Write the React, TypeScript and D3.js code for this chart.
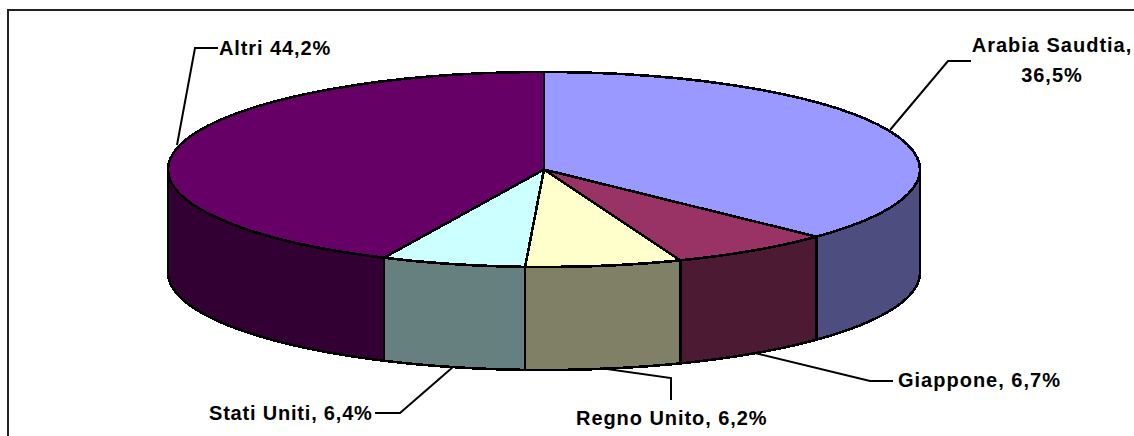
import React from 'react';
import * as d3 from 'd3';

// labelled values
const categories = ['Arabia Saudtia', 'Giappone', 'Regno Unito', 'Stati Uniti', 'Altri'];
const percentages = [36.5, 6.7, 6.2, 6.4, 44.2];
// shares of the top ellipse as actually drawn in the picture (the 3D view skews them a bit)
const drawnShares = [37.1, 7.0, 6.7, 6.2, 43.0];
const topColors = ['#9999FF', '#993366', '#FFFFCC', '#CCFFFF', '#660066'];
const wallColors = ['#4D4D80', '#4D1A33', '#808066', '#668080', '#330033'];

const width = 1134;
const height = 436;
const cx = 544;
const cy = 169.5;
const rx = 376;
const ry = 97.5;
const depth = 103;

// label placement and leader lines, same order as categories
const labelLines = [
    [[971, 61], [948, 61], [890, 130]],
    [[893, 381], [870, 381], [755, 353]],
    [[671, 400], [671, 378], [600, 368]],
    [[375, 413], [400, 413], [453, 367]],
    [[218, 48], [195, 48], [177, 145]],
];
const labelAnchors = [
    { x: 1052, y: 52, anchor: 'middle', spacing: 1 },
    { x: 898, y: 387, anchor: 'start', spacing: 1 },
    { x: 576, y: 425, anchor: 'start', spacing: 0.94 },
    { x: 209, y: 420, anchor: 'start', spacing: 0.8 },
    { x: 219, y: 55, anchor: 'start', spacing: 0.9 },
];

const fmt = (v: number) => v.toFixed(1).replace('.', ',');

const slices = d3.pie<number>().sort(null)(drawnShares);
const arc = d3.arc<d3.PieArcDatum<number>>().innerRadius(0).outerRadius(rx);
const ring = (a: number, y: number): [number, number] => [Math.sin(a) * rx, y - Math.cos(a) * ry];
const line = d3.line();

// front wall of one slice: only the part between 3 o'clock and 9 o'clock shows
const wallPath = (s: d3.PieArcDatum<number>) => {
    const a0 = Math.max(s.startAngle, Math.PI / 2);
    const a1 = Math.min(s.endAngle, (3 * Math.PI) / 2);
    if (a1 <= a0) return null;
    const angles = d3.range(a0, a1, 0.01).concat(a1);
    const upper = angles.map((a) => ring(a, 0));
    const lower = angles.map((a) => ring(a, depth)).reverse();
    return line([...upper, ...lower]) + 'Z';
};

export default function App() {
    return (
        <svg
            width={width}
            height={height}
            style={{ position: 'absolute', left: 0, top: 0, background: '#fff' }}
            fontFamily="'Liberation Sans', Arial, sans-serif"
        >
            <path d={`M8,${height}V10H${width}`} fill="none" stroke="#222" strokeWidth={2} />
            <g
                transform={`translate(${cx},${cy})`}
                stroke="#000"
                strokeWidth={2.6}
                strokeLinejoin="round"
                shapeRendering="crispEdges"
            >
                {slices.map((s, i) => {
                    const d = wallPath(s);
                    return d ? <path key={i} d={d} fill={wallColors[i]} /> : null;
                })}
                <g transform={`scale(1,${ry / rx})`}>
                    {slices.map((s, i) => (
                        <path key={i} d={arc(s) as string} fill={topColors[i]} vectorEffect="non-scaling-stroke" />
                    ))}
                </g>
            </g>
            {labelLines.map((pts, i) => (
                <path
                    key={i}
                    d={line(pts as [number, number][]) as string}
                    fill="none"
                    stroke="#000"
                    strokeWidth={2}
                />
            ))}
            <g fontSize={20} fontWeight="bold" fill="#000">
                {categories.map((c, i) => {
                    const l = labelAnchors[i];
                    if (i === 0) {
                        return (
                            <text key={c} x={l.x} y={l.y} textAnchor="middle" letterSpacing={l.spacing}>
                                <tspan x={l.x}>{c},</tspan>
                                <tspan x={l.x} dy={30}>{fmt(percentages[i])}%</tspan>
                            </text>
                        );
                    }
                    const sep = c === 'Altri' ? ' ' : ', ';
                    return (
                        <text key={c} x={l.x} y={l.y} textAnchor={l.anchor as 'start'} letterSpacing={l.spacing}>
                            {c}{sep}{fmt(percentages[i])}%
                        </text>
                    );
                })}
            </g>
        </svg>
    );
}
